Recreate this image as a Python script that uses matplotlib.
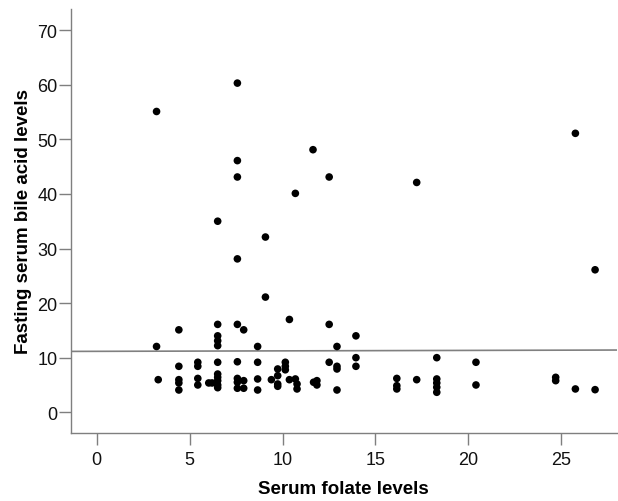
import matplotlib
matplotlib.use("Agg")
import matplotlib.pyplot as plt
import numpy as np

# ── Data ───────────────────────────────────────────────────────────────────
FOLATE = [
    3.22, 3.22, 3.31,
    4.42, 4.42, 4.42, 4.42, 4.42,
    5.44, 5.44, 5.44, 5.44,
    6.03, 6.21,
    6.51, 6.51, 6.51, 6.51, 6.51, 6.51, 6.51, 6.51, 6.51, 6.51, 6.51,
    7.57, 7.57, 7.57, 7.57, 7.57, 7.57, 7.57, 7.57, 7.57,
    7.91, 7.91, 7.91,
    8.66, 8.66, 8.66, 8.66,
    9.08, 9.08,
    9.40,
    9.74, 9.74, 9.74, 9.74,
    10.15, 10.15, 10.15,
    10.37, 10.37,
    10.69, 10.69,
    10.78, 10.78,
    11.64, 11.67,
    11.85, 11.85,
    12.51, 12.51, 12.51,
    12.93, 12.93, 12.93, 12.93,
    13.95, 13.95, 13.95,
    16.15, 16.15, 16.15,
    17.22, 17.22,
    18.30, 18.30, 18.30, 18.30, 18.30,
    20.41, 20.41,
    24.70, 24.70,
    25.76, 25.76,
    26.82, 26.82,
]

BILE_ACID = [
    55.1, 12.05, 5.97,
    15.1, 8.42, 5.97, 5.37, 4.08,
    9.16, 8.42, 6.2, 5.0,
    5.37, 5.37,
    35.0, 16.1, 14.0, 13.1, 12.2, 9.16, 7.0, 6.4, 5.79, 5.0, 4.5,
    60.3, 46.1, 43.1, 28.1, 16.1, 9.25, 6.2, 5.5, 4.4,
    15.1, 5.79, 4.4,
    12.05, 9.16, 6.1, 4.08,
    32.1, 21.1,
    5.97,
    7.93, 6.7, 5.18, 4.76,
    9.16, 8.42, 7.78,
    17.0, 5.97,
    40.1, 6.1,
    5.18, 4.27,
    48.1, 5.5,
    5.79, 5.0,
    43.1, 16.1, 9.16,
    12.05, 8.42, 7.93, 4.08,
    14.0, 10.0, 8.42,
    6.2, 4.87, 4.27,
    42.1, 5.97,
    10.0, 6.1, 5.37, 4.58, 3.66,
    9.16, 5.0,
    6.4, 5.79,
    51.1, 4.27,
    26.1, 4.14,
]

# reference line (endpoints at the axis limits)
FIT_X = [-1.4, 28.0]
FIT_Y = [11.15, 11.4]

X_TICKS = [0, 5, 10, 15, 20, 25]
Y_TICKS = [0, 10, 20, 30, 40, 50, 60, 70]

# ── Style ──────────────────────────────────────────────────────────────────
plt.rcParams.update({
    "font.family": ["Liberation Sans", "DejaVu Sans"],
    "font.size": 13,
})
AXIS_GRAY = "#7f7f7f"

fig = plt.figure(figsize=(6.18, 5.02), dpi=100)
ax = fig.add_axes([0.1144, 0.1349, 0.884, 0.846])

ax.plot(FIT_X, FIT_Y, color="#808080", linewidth=1.2, zorder=2)
ax.scatter(FOLATE, BILE_ACID, s=30, color="black", edgecolors="none", zorder=3)

ax.set_xlim(-1.4, 28.0)
ax.set_ylim(-3.85, 73.95)
ax.set_xticks(X_TICKS)
ax.set_yticks(Y_TICKS)

ax.spines["top"].set_visible(False)
ax.spines["right"].set_visible(False)
for side in ("left", "bottom"):
    ax.spines[side].set_color(AXIS_GRAY)
    ax.spines[side].set_linewidth(1.0)

ax.tick_params(axis="both", length=8.5, width=1.0, color=AXIS_GRAY,
               labelsize=13, labelcolor="#111111")
ax.tick_params(axis="x", pad=4)
ax.tick_params(axis="y", pad=1)

ax.set_xlabel("Serum folate levels", fontsize=13.5, fontweight="bold", labelpad=9)
ax.set_ylabel("Fasting serum bile acid levels", fontsize=13.5, fontweight="bold",
              labelpad=4)

fig.savefig("out.png", dpi=100)
plt.close(fig)
